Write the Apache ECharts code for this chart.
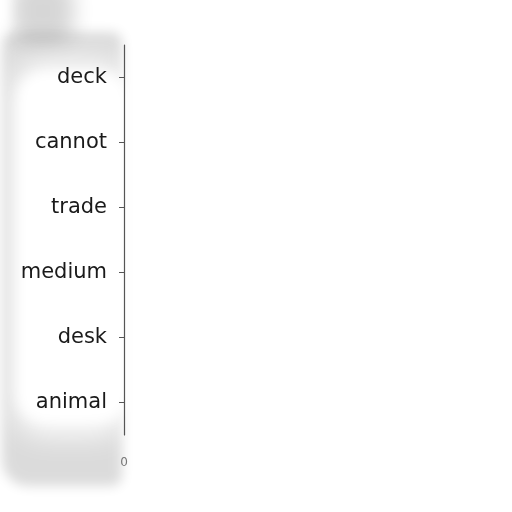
<!DOCTYPE html>
<html>
<head>
<meta charset="utf-8">
<script src="https://cdn.jsdelivr.net/npm/echarts@6/dist/echarts.min.js"></script>
<style>
  html, body { margin: 0; padding: 0; background: #fff; }
  #main { width: 512px; height: 512px; }
</style>
</head>
<body>
<div id="main"></div>
<script>
var categories = ['animal', 'desk', 'medium', 'trade', 'cannot', 'deck'];
var values = [0, 0, 0, 0, 0, 0];

// grey smudge behind the labels, drawn as shadows only (the shapes sit off-screen)
var OFF = 1000;
function blob(x, y, w, h, r, blur, color, z) {
  return {
    type: 'rect', z: z,
    shape: { x: x - OFF, y: y, width: w, height: h, r: r },
    style: { fill: '#000', shadowBlur: blur, shadowColor: color, shadowOffsetX: OFF }
  };
}
var smudge = [
  blob(2, 32, 120, 454, [14, 10, 10, 26], 12, 'rgba(0,0,0,0.14)', -30),
  blob(12, -20, 62, 62, 20, 20, 'rgba(0,0,0,0.16)', -30),
  blob(14, 62, 114, 372, 30, 30, 'rgba(255,255,255,1)', -29),
  blob(18, 74, 110, 346, 24, 14, 'rgba(255,255,255,1)', -28),
  blob(-14, -14, 22, 44, 10, 12, 'rgba(255,255,255,1)', -28)
];

var chart = echarts.init(document.getElementById('main'), null, { renderer: 'canvas' });
var option = {
  backgroundColor: '#ffffff',
  animation: false,
  textStyle: { fontFamily: 'DejaVu Sans' },
  graphic: smudge,
  grid: { left: 124, right: 387, top: 45, bottom: 77, containLabel: false },
  xAxis: {
    type: 'value',
    min: 0,
    max: 1,
    interval: 1,
    axisLine: { show: false },
    axisTick: { show: false },
    splitLine: { show: false },
    axisLabel: {
      margin: 22,
      color: '#777',
      fontSize: 12,
      formatter: function (v) { return v === 0 ? '0' : ''; }
    }
  },
  yAxis: {
    type: 'category',
    data: categories,
    axisLine: { show: true, lineStyle: { color: '#555', width: 1.2 } },
    axisTick: { show: true, alignWithLabel: true, length: 5, lineStyle: { color: '#555' } },
    axisLabel: { margin: 17, color: '#1a1a1a', fontSize: 21 }
  },
  series: [{
    type: 'bar',
    data: values,
    itemStyle: { color: '#5470c6' }
  }]
};
chart.setOption(option);
</script>
</body>
</html>
